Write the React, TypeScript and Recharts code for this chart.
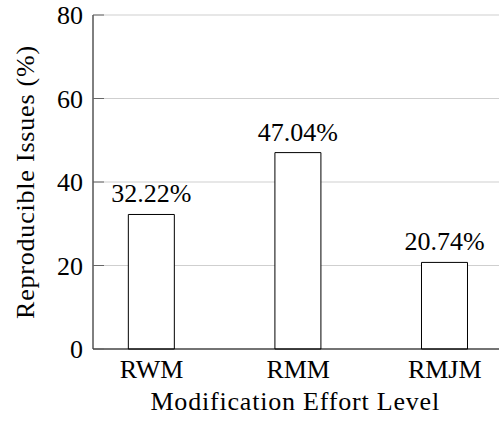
import { BarChart, Bar, XAxis, YAxis, CartesianGrid, LabelList } from 'recharts'

const categories = ['RWM', 'RMM', 'RMJM']
const reproducible = [32.22, 47.04, 20.74]
const yTicks = [0, 20, 40, 60, 80]

const data = categories.map((name, i) => ({ idx: i, name, value: reproducible[i] }))

const FONT = 'Liberation Serif'
const textStyle = { fontSize: 26, fill: '#000', fontFamily: FONT }

// high-specificity override so every svg text in the chart uses the serif face
const css = `
#root #chart-box svg text,
#root #chart-box svg text tspan,
html body #root #chart-box .recharts-wrapper svg.recharts-surface text.recharts-text {
  font-family: 'Liberation Serif' !important;
}
`

export default function App() {
  return (
    <div
      id="chart-box"
      style={{
        position: 'absolute',
        left: 0,
        top: 0,
        width: 499,
        height: 421,
        overflow: 'hidden',
        background: '#fff',
      }}
    >
      <style>{css}</style>
      <BarChart
        width={520}
        height={421}
        data={data}
        margin={{ top: 15, right: 16.6, bottom: 0, left: 0 }}
      >
        <CartesianGrid vertical={false} stroke="#cfcfcf" strokeWidth={1} />
        <XAxis
          dataKey="idx"
          type="number"
          domain={[-0.4, 2.4]}
          ticks={[0, 1, 2]}
          interval={0}
          height={72}
          tickFormatter={(i: number) => categories[i]}
          tickLine={false}
          tickSize={0}
          tickMargin={11}
          axisLine={{ stroke: '#000', strokeWidth: 1 }}
          tick={textStyle}
          label={{
            content: ({ viewBox }: any) => (
              <text
                x={viewBox.x + viewBox.width / 2 - 3}
                y={viewBox.y + 61}
                textAnchor="middle"
                letterSpacing={0.8}
                fontFamily={FONT}
                fontSize={26}
                fill="#000"
              >
                Modification Effort Level
              </text>
            ),
          }}
        />
        <XAxis
          xAxisId="top"
          orientation="top"
          dataKey="idx"
          type="number"
          domain={[-0.4, 2.4]}
          ticks={[0, 1, 2]}
          interval={0}
          height={0}
          tick={false}
          tickSize={-11}
          tickLine={{ stroke: '#777' }}
          axisLine={{ stroke: '#000', strokeWidth: 1 }}
        />
        <YAxis
          type="number"
          domain={[0, 80]}
          ticks={yTicks}
          interval={0}
          width={93}
          tickSize={-11}
          tickMargin={21}
          tickLine={{ stroke: '#666' }}
          axisLine={{ stroke: '#000', strokeWidth: 1 }}
          tick={textStyle}
          label={{
            content: ({ viewBox }: any) => {
              const cx = 33.5
              const cy = viewBox.y + viewBox.height / 2
              return (
                <text
                  x={cx}
                  y={cy}
                  transform={`rotate(-90, ${cx}, ${cy})`}
                  textAnchor="middle"
                  letterSpacing={0.8}
                  fontFamily={FONT}
                  fontSize={26}
                  fill="#000"
                >
                  Reproducible Issues (%)
                </text>
              )
            },
          }}
        />
        <YAxis
          yAxisId="right"
          orientation="right"
          type="number"
          domain={[0, 80]}
          ticks={yTicks}
          interval={0}
          width={0}
          tick={false}
          tickSize={-11}
          tickLine={{ stroke: '#666' }}
          axisLine={{ stroke: '#000', strokeWidth: 1 }}
        />
        <Bar
          dataKey="value"
          barSize={46}
          fill="#fff"
          stroke="#000"
          strokeWidth={1}
          isAnimationActive={false}
        >
          <LabelList
            dataKey="value"
            position="top"
            offset={12}
            formatter={(v: any) => `${Number(v).toFixed(2)}%`}
            style={textStyle}
          />
        </Bar>
      </BarChart>
    </div>
  )
}
